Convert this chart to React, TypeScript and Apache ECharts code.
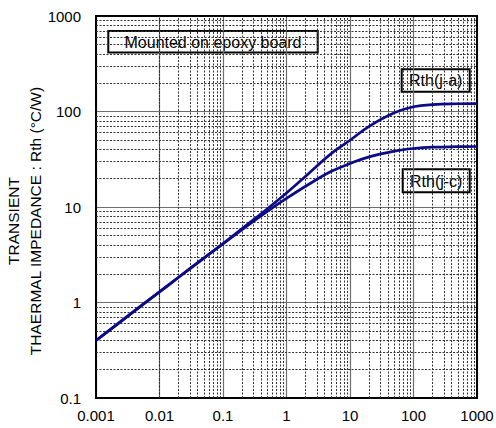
import React, { useEffect, useRef } from "react";
import * as echarts from "echarts";

// time (s)
const timeValues = [0.001, 0.002, 0.005, 0.01, 0.02, 0.05, 0.1, 0.2, 0.5, 1, 2, 5, 10, 20, 50, 100, 200, 500, 1000];
// Rth(j-a) (°C/W)
const rthJA = [0.4, 0.57, 0.91, 1.29, 1.84, 2.92, 4.15, 5.95, 9.6, 14, 21, 36, 50, 70, 97, 112, 118, 120.5, 121];
// Rth(j-c) (°C/W)
const rthJC = [0.4, 0.57, 0.91, 1.29, 1.84, 2.92, 4.1, 5.8, 9.0, 12.3, 16.5, 23.5, 28.5, 33.5, 38.5, 41, 42.3, 42.8, 43];

const xTickLabels = ["0.001", "0.01", "0.1", "1", "10", "100", "1000"];
const yTickLabels = ["0.1", "1", "10", "100", "1000"];
const xDecades = [0.001, 0.01, 0.1, 1, 10, 100];
const yDecades = [0.1, 1, 10, 100];
const minorSteps = [2, 3, 4, 5, 6, 7, 8, 9];

const FONT = "'Liberation Sans', Arial, sans-serif";
const CURVE = "#0b0b8a";

export default function App() {
  const ref = useRef<HTMLDivElement>(null);

  useEffect(() => {
    if (!ref.current) return;
    const chart = echarts.init(ref.current, undefined, { renderer: "svg" });

    const xMinor: any[] = [];
    xDecades.forEach((d) => minorSteps.forEach((m) => xMinor.push({ xAxis: +(d * m).toPrecision(6) })));
    const yMinor: any[] = [];
    yDecades.forEach((d) => minorSteps.forEach((m) => yMinor.push({ yAxis: +(d * m).toPrecision(6) })));

    const minorLine = {
      silent: true,
      symbol: ["none", "none"],
      label: { show: false },
      emphasis: { disabled: true },
      animation: false,
      lineStyle: { color: "#333", width: 1, type: [2, 1.5] },
    };

    const option: any = {
      animation: false,
      backgroundColor: "#fff",
      grid: {
        left: 96,
        right: 19,
        top: 16,
        bottom: 30,
        show: true,
        borderColor: "#000",
        borderWidth: 2,
        backgroundColor: "#fff",
        containLabel: false,
        outerBoundsMode: "none",
      },
      xAxis: [
        {
          type: "log",
          logBase: 10,
          min: 0.001,
          max: 1000,
          axisLine: { show: true, lineStyle: { color: "#000", width: 2 } },
          axisTick: { show: false },
          axisLabel: {
            color: "#000",
            fontSize: 15,
            fontFamily: FONT,
            margin: 10,
            formatter: (v: number) => xTickLabels[Math.round(Math.log10(v)) + 3] ?? "",
          },
          splitLine: { show: true, lineStyle: { color: "#6e6e6e", width: 1.2 } },
        },
        {
          type: "log",
          logBase: 10,
          min: 0.001,
          max: 1000,
          position: "top",
          axisLine: { show: true, lineStyle: { color: "#000", width: 2 } },
          axisTick: { show: false },
          axisLabel: { show: false },
          splitLine: { show: false },
        },
      ],
      yAxis: [
        {
          type: "log",
          logBase: 10,
          min: 0.1,
          max: 1000,
          name: "TRANSIENT\nTHAERMAL IMPEDANCE : Rth (°C/W)",
          nameLocation: "middle",
          nameRotate: 90,
          nameGap: 50,
          nameMoveOverlap: false,
          nameTextStyle: {
            color: "#000",
            fontSize: 15.5,
            fontFamily: FONT,
            lineHeight: 22,
            align: "center",
            padding: [0, 28, 0, 0],
          },
          axisLine: { show: true, lineStyle: { color: "#000", width: 2 } },
          axisTick: { show: false },
          axisLabel: {
            color: "#000",
            fontSize: 15,
            fontFamily: FONT,
            margin: 15,
            formatter: (v: number) => yTickLabels[Math.round(Math.log10(v)) + 1] ?? "",
          },
          splitLine: { show: true, lineStyle: { color: "#6e6e6e", width: 1.2 } },
        },
        {
          type: "log",
          logBase: 10,
          min: 0.1,
          max: 1000,
          position: "right",
          axisLine: { show: true, lineStyle: { color: "#000", width: 2 } },
          axisTick: { show: false },
          axisLabel: { show: false },
          splitLine: { show: false },
        },
      ],
      series: [
        {
          type: "line",
          name: "minorX",
          data: [],
          z: 1,
          silent: true,
          markLine: { ...minorLine, data: xMinor },
        },
        {
          type: "line",
          name: "minorY",
          data: [],
          z: 1,
          silent: true,
          markLine: { ...minorLine, data: yMinor },
        },
        {
          type: "line",
          name: "Rth(j-a)",
          data: timeValues.map((t, i) => [t, rthJA[i]]),
          smooth: 0.4,
          showSymbol: false,
          symbol: "none",
          z: 5,
          lineStyle: { color: CURVE, width: 2.7 },
        },
        {
          type: "line",
          name: "Rth(j-c)",
          data: timeValues.map((t, i) => [t, rthJC[i]]),
          smooth: 0.4,
          showSymbol: false,
          symbol: "none",
          z: 5,
          lineStyle: { color: CURVE, width: 2.7 },
        },
      ],
      graphic: [
        {
          type: "group",
          z: 100,
          children: [
            {
              type: "rect",
              shape: { x: 108.3, y: 31, width: 209.4, height: 21.5 },
              style: { fill: "#fff", stroke: "#000", lineWidth: 2 },
            },
            {
              type: "text",
              x: 213,
              y: 42,
              style: {
                text: "Mounted on epoxy board",
                fill: "#000",
                font: `16px ${FONT}`,
                align: "center",
                verticalAlign: "middle",
              },
            },
            {
              type: "rect",
              shape: { x: 401.7, y: 69.3, width: 68, height: 22.4 },
              style: { fill: "#fff", stroke: "#000", lineWidth: 2 },
            },
            {
              type: "text",
              x: 435.7,
              y: 80.6,
              style: {
                text: "Rth(j-a)",
                fill: "#000",
                font: `16px ${FONT}`,
                align: "center",
                verticalAlign: "middle",
              },
            },
            {
              type: "rect",
              shape: { x: 402.7, y: 169.3, width: 67, height: 23 },
              style: { fill: "#fff", stroke: "#000", lineWidth: 2 },
            },
            {
              type: "text",
              x: 436.2,
              y: 181,
              style: {
                text: "Rth(j-c)",
                fill: "#000",
                font: `16px ${FONT}`,
                align: "center",
                verticalAlign: "middle",
              },
            },
          ],
        },
      ],
    };

    chart.setOption(option);
    return () => chart.dispose();
  }, []);

  return (
    <div
      ref={ref}
      style={{ position: "fixed", left: 0, top: 0, width: 496, height: 428, background: "#fff" }}
    />
  );
}
